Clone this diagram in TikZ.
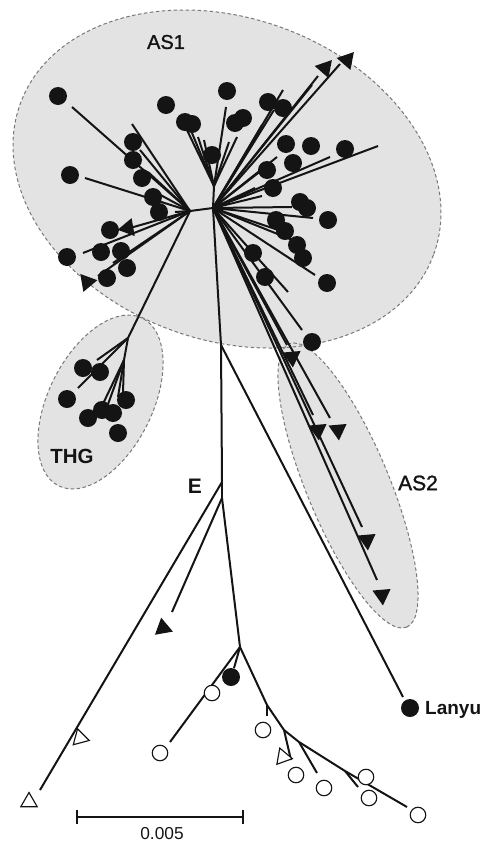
\documentclass[tikz,border=0pt]{standalone}
\usepackage{fontspec}
\setmainfont{Liberation Sans}
\newfontfamily\medsans[FakeBold=1.2]{Liberation Sans}
\usetikzlibrary{shapes.geometric}
\definecolor{cladefill}{RGB}{227,227,227}
\definecolor{cladeedge}{RGB}{120,120,120}
\definecolor{ink}{RGB}{20,20,20}
\begin{document}
\begin{tikzpicture}[x=1pt,y=-1pt,
  br/.style={line width=2pt, draw=ink},
  fdot/.style={circle, fill=ink, inner sep=0pt, minimum size=18pt},
  odot/.style={circle, draw=ink, fill=white, line width=1.15pt, inner sep=0pt, minimum size=15.5pt},
  ftri/.style={regular polygon, regular polygon sides=3, fill=ink, inner sep=0pt, minimum size=21pt},
  otri/.style={regular polygon, regular polygon sides=3, draw=ink, fill=white, line width=1.15pt, inner sep=0pt, minimum size=19pt},
  cladeline/.style={draw=cladeedge, dash pattern=on 3.5pt off 2.5pt, line width=1pt},
  lab/.style={inner sep=0pt, text=ink}]
\useasboundingbox (0,0) rectangle (480,841);
% ---- clade ellipses
\path[fill=cladefill, rotate around={-20:(227,179)}] (227,179) ellipse [x radius=220pt, y radius=161pt];
\path[fill=cladefill, rotate around={63.4:(100.5,402)}] (100.5,402) ellipse [x radius=93.7pt, y radius=51.9pt];
\path[fill=cladefill, rotate around={-67.5:(348,485.5)}] (348,485.5) ellipse [x radius=153.3pt, y radius=41.4pt];
\path[cladeline, rotate around={-20:(227,179)}] (227,179) ellipse [x radius=220pt, y radius=161pt];
\path[cladeline, rotate around={63.4:(100.5,402)}] (100.5,402) ellipse [x radius=93.7pt, y radius=51.9pt];
\path[cladeline, rotate around={-67.5:(348,485.5)}] (348,485.5) ellipse [x radius=153.3pt, y radius=41.4pt];
% ---- internal points and tips
\foreach \n/\x/\y in {H/213/208, L/190/211, Ls/175/212, U/214/186, Lb/221/345, E/222/482, E2/222/498,
  Tn/128/338, Tm/124/360, N2/240/647, c1/267/705, c2/284/730, c3/299/742, c4/345/771, c5/407/807,
  l1/72/107, l2/132/124, l3/140/150, l4/148/172, l5/85/178, l6/155/192, l7/130/228, l8/83/253, l9/113/263, l10/98/276,
  t1/97/360, t2/78/388, t3/100/410, t4/107/407, t5/118/397, t6/123/393,
  u1/226/107, u2/186/128, u3/192/133, u4/198/137, u5/204/140, u6/237/137, u7/229/142,
  r1/340/64, r2/318/76, r3/312/85, r4/283/90, r5/274/110, r6/262/125, r7/378/146, r8/330/157, r9/277/157,
  r10/262/170, r11/255/188, r12/313/218, r13/292/207, r14/262/196, r15/315/275, r16/300/243, r17/288/292,
  r18/302/330, r19/287/233, a1/287/345, a2/313/415, a3/330/418, a4/362/527, a5/377/580,
  ly/403/697, o1/40/790, k1/172/612, b1/170/742, b2/234/668, d1/267/716, d2/291/760, d3/317/773, d4/358/787}
  {\coordinate (\n) at (\x,\y);}
% ---- branches
\foreach \p/\c in {Ls/L, L/H, H/U,
  L/l1, L/l2, L/l3, L/l4, L/l5, L/l6, L/l7, L/l8, L/l9, L/l10, L/Tn,
  Tn/t1, Tn/t2, Tn/Tm, Tm/t3, Tm/t4, Tm/t5, Tm/t6,
  U/u1, U/u2, U/u3, U/u4, U/u5, U/u6, U/u7,
  H/r1, H/r2, H/r3, H/r4, H/r5, H/r6, H/r7, H/r8, H/r9, H/r10, H/r11, H/r12, H/r13, H/r14,
  H/r15, H/r16, H/r17, H/r18, H/r19, H/a1, H/a2, H/a3, H/a4, H/a5,
  H/Lb, Lb/E, Lb/ly, E/o1, E/E2, E2/k1, E2/N2, N2/b1, N2/b2,
  N2/c1, c1/c2, c2/c3, c3/c4, c4/c5, c1/d1, c2/d2, c3/d3, c4/d4}
  {\draw[br] (\p) -- (\c);}
% ---- filled circles
\foreach \n/\x/\y in {f1/58/96, f2/70/175, f3/166/105, f4/133/142, f5/133/160, f6/142/178, f7/153/197, f8/159/212,
  f9/185/122, f10/192/124, f11/212/155, f12/227/91, f13/235/123, f14/243/118, f15/268/102, f16/283/108,
  f17/286/144, f18/311/146, f19/345/149, f20/293/163, f21/267/170, f22/273/188, f23/300/202, f24/307/208,
  f25/328/220, f26/276/220, f27/285/231, f28/297/245, f29/303/258, f30/253/253, f31/265/277, f32/327/283,
  f33/312/342, f34/110/230, f35/101/252, f36/121/251, f37/67/257, f38/127/268, f39/107/278,
  g1/83/368, g2/100/372, g3/67/399, g4/126/400, g5/88/418, g6/113/413, g7/102/410, g8/118/433,
  f40/231/677}
  {\node[fdot] (\n) at (\x,\y) {};}
\node[fdot] (lanyudot) at (410,708) {};
% ---- open circles
\foreach \n/\x/\y in {w1/212/693, w2/160/753, w3/263/730, w4/296/775, w5/324/788, w6/366/777, w7/369/798, w8/418/815}
  {\node[odot] (\n) at (\x,\y) {};}
% ---- filled triangles
\foreach \n/\x/\y/\r in {v1/325/68/-41, v2/347/60/-41, v3/128/228/100, v4/87/282/40,
  v5/292/357/185, v6/318/430/185, v7/338/430/185, v8/367/540/185, v9/382/595/185, v10/163/628/10}
  {\node[ftri, shape border rotate=\r] (\n) at (\x,\y) {};}
% ---- open triangles
\foreach \n/\x/\y/\r in {q1/80/738/15, q2/29/802/0, q3/283/757/20}
  {\node[otri, shape border rotate=\r] (\n) at (\x,\y) {};}
% ---- labels
\node[lab, font=\medsans\fontsize{20}{24}\selectfont] (as1) at (166,42) {AS1};
\node[lab, font=\bfseries\fontsize{20.5}{24}\selectfont] (thg) at (72,456) {THG};
\node[lab, font=\bfseries\fontsize{21}{24}\selectfont] (elab) at (195,486) {E};
\node[lab, font=\medsans\fontsize{21}{24}\selectfont] (as2) at (418,483) {AS2};
\node[lab, font=\bfseries\fontsize{19}{22}\selectfont, anchor=base west] (lanyu) at (425,714) {Lanyu};
% ---- scale bar
\coordinate (sb1) at (77,817); \coordinate (sb2) at (243,817);
\coordinate (sb1t) at (77,810); \coordinate (sb1b) at (77,824);
\coordinate (sb2t) at (243,810); \coordinate (sb2b) at (243,824);
\draw[line width=2.4pt, draw=ink] (sb1) -- (sb2);
\draw[line width=2pt, draw=ink] (sb1t) -- (sb1b);
\draw[line width=2pt, draw=ink] (sb2t) -- (sb2b);
\node[lab, font=\fontsize{17.3}{20}\selectfont, anchor=base] (sbl) at (162,839) {0.005};
\end{tikzpicture}
\end{document}
